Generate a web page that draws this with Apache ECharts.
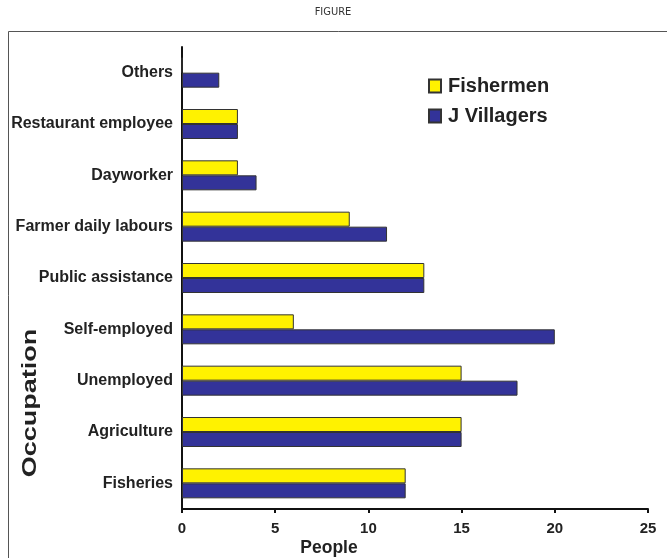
<!DOCTYPE html>
<html><head><meta charset="utf-8">
<script src="https://cdn.jsdelivr.net/npm/echarts@6/dist/echarts.min.js"></script>
<style>html,body{margin:0;padding:0;background:#fff}#c{width:667px;height:558px}</style>
</head><body><div id="c"></div>
<script>
var categories = ['Fisheries','Agriculture','Unemployed','Self-employed','Public assistance','Farmer daily labours','Dayworker','Restaurant employee','Others'];
var fishermen = [12, 15, 15, 6, 13, 9, 3, 3, 0];
var villagers = [12, 15, 18, 20, 13, 11, 4, 3, 2];
var xTicks = [0, 5, 10, 15, 20, 25];

var chart = echarts.init(document.getElementById('c'));
var F = 'Liberation Sans, Arial, sans-serif';
chart.setOption({
  animation: false,
  grid: {left: 182, right: 19, top: 47, bottom: 49, containLabel: false},
  legend: {
    left: 428, top: 76, orient: 'vertical', padding: 0, itemWidth: 12, itemHeight: 13, itemGap: 10,
    textStyle: {fontFamily: F, fontWeight: 'bold', fontSize: 20, color: '#222', padding: [0, 0, 0, 2]},
    data: [{name: 'Fishermen', icon: 'rect'}, {name: 'J Villagers', icon: 'rect'}]
  },
  xAxis: {
    type: 'value', min: xTicks[0], max: xTicks[xTicks.length-1], interval: 5,
    axisLine: {show: true, lineStyle: {color: '#111', width: 2}},
    axisTick: {show: true, length: 4, lineStyle: {color: '#111', width: 2}},
    axisLabel: {fontFamily: F, fontWeight: 'bold', fontSize: 15, color: '#222', margin: 12},
    splitLine: {show: false}
  },
  yAxis: {
    type: 'category', data: categories,
    axisLine: {show: true, lineStyle: {color: '#111', width: 2}},
    axisTick: {show: false},
    axisLabel: {fontFamily: F, fontWeight: 'bold', fontSize: 16, color: '#222', margin: 9}
  },
  series: [
    {name: 'Fishermen', type: 'bar', data: fishermen, barWidth: 15, barGap: '0%',
     itemStyle: {color: '#FFF200', borderColor: '#333', borderWidth: 1}},
    {name: 'J Villagers', type: 'bar', data: villagers, barWidth: 15, barGap: '0%',
     itemStyle: {color: '#333399', borderColor: '#333', borderWidth: 1}}
  ],
  graphic: [
    {type: 'rect', shape: {x: 8.5, y: 31.5, width: 700, height: 600}, style: {fill: 'none', stroke: '#555', lineWidth: 1}, z: -1},
    {type: 'text', x: 333, y: 12, style: {text: 'FIGURE', fontFamily: 'DejaVu Sans Condensed, sans-serif', fontSize: 11, fill: '#333', align: 'center', verticalAlign: 'middle'}},
    {type: 'text', x: 329, y: 548, style: {text: 'People', fontFamily: F, fontWeight: 'bold', fontSize: 17.5, fill: '#222', align: 'center', verticalAlign: 'middle'}},
    {type: 'text', x: 30, y: 403, rotation: Math.PI/2, scaleX: 1.35, style: {text: 'Occupation', fontFamily: F, fontWeight: 'bold', fontSize: 20, fill: '#222', align: 'center', verticalAlign: 'middle'}}
  ]
});
</script></body></html>
